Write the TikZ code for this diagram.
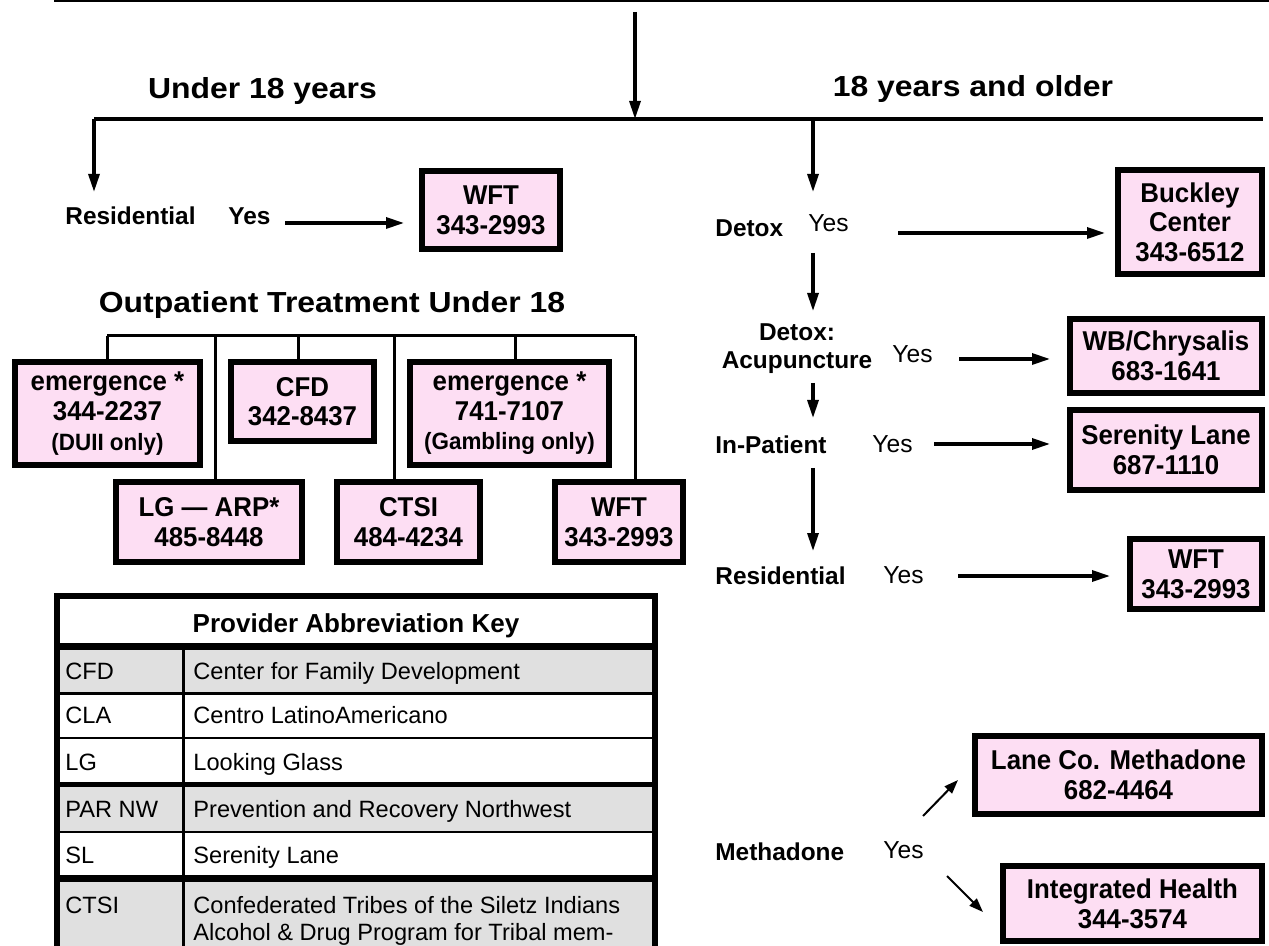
\documentclass[tikz,border=0pt]{standalone}
\usepackage{fontspec}
\setmainfont{Liberation Sans}
\newfontfamily\headfont[Ligatures=TeX, FakeStretch=1.1]{Liberation Sans}
\newfontfamily\boxfont[Ligatures=TeX, FakeStretch=0.95]{Liberation Sans}
\usetikzlibrary{arrows.meta}

\definecolor{boxpink}{RGB}{253,222,243}
\definecolor{keygray}{RGB}{224,224,224}

\tikzset{
  provbox/.style={draw, line width=3pt, fill=boxpink, align=center, inner sep=0pt,
    font=\boxfont\fontsize{13.6}{14.8}\selectfont\bfseries},
  lbl/.style={anchor=base west, inner sep=0pt, font=\fontsize{12.2}{14}\selectfont\bfseries},
  yeslbl/.style={anchor=base west, inner sep=0pt, font=\fontsize{12.3}{14}\selectfont},
  headlbl/.style={anchor=base, inner sep=0pt, font=\headfont\fontsize{14.5}{17}\selectfont\bfseries},
  keyhead/.style={anchor=base, inner sep=0pt, font=\fontsize{13}{15}\selectfont\bfseries},
  keytxt/.style={anchor=base west, inner sep=0pt, align=left, font=\fontsize{11.8}{13.5}\selectfont},
  arr/.style={-{Triangle[length=9pt,width=5.5pt]}, line width=1.6pt},
  thinarr/.style={-{Triangle[length=7pt,width=5pt]}, line width=1pt},
  tline/.style={line width=1.5pt}
}

\begin{document}
\begin{tikzpicture}[x=0.5pt,y=-0.5pt]
  \useasboundingbox (0,0) rectangle (1269,946);

  % top rule and age split
  \draw[line width=1pt] (54,1) -- (1269,1);
  \coordinate (top) at (635,12);
  \coordinate (split) at (635,119);
  \coordinate (splitL) at (94,119);
  \coordinate (splitR) at (1263,119);
  \draw[line width=1.6pt] (splitL) -- (splitR);
  \draw[arr] (top) -- (split);

  \node[headlbl] (under) at (262.5,99) {Under 18 years};
  \node[headlbl] (older) at (973,97) {18 years and older};

  % under 18: residential
  \node[lbl] (resYouth) at (65,225) {Residential};
  \node[lbl] (resYouthYes) at (228,225) {Yes};
  \node[provbox, minimum width=69pt, minimum height=39pt] (wftYouth) at (491,210) {WFT\\343-2993};
  \draw[arr, shorten >=7.5pt] (splitL) -- (splitL |- resYouth.north);
  \coordinate (ay) at (285,223);
  \draw[arr, shorten >=7.5pt] (ay) -- (ay -| wftYouth.west);

  % under 18: outpatient
  \node[headlbl] (outpat) at (332,313) {Outpatient Treatment Under 18};
  \node[provbox, minimum width=92.5pt, minimum height=51.5pt] (emDuii) at (107.5,413.5)
        {emergence *\\344-2237\\{\fontsize{11.8}{13}\selectfont (DUII only)}};
  \node[provbox, minimum width=71.5pt, minimum height=39.5pt] (cfdBox) at (302.5,401.5) {CFD\\342-8437};
  \node[provbox, minimum width=99.5pt, minimum height=51.5pt] (emGamb) at (509.5,413.5)
        {emergence *\\741-7107\\{\fontsize{11.8}{13}\selectfont (Gambling only)}};
  \node[provbox, minimum width=93pt, minimum height=40pt] (lgArp) at (209,522) {LG --- ARP*\\485-8448};
  \node[provbox, minimum width=71.5pt, minimum height=40pt] (ctsiBox) at (408.5,522) {CTSI\\484-4234};
  \node[provbox, minimum width=64pt, minimum height=40pt] (wftOut) at (619,522) {WFT\\343-2993};

  \coordinate (t1) at (107,336);
  \coordinate (t2) at (215,336);
  \coordinate (t3) at (298,336);
  \coordinate (t4) at (394,336);
  \coordinate (t5) at (515,336);
  \coordinate (t6) at (635,336);
  \draw[tline] (t1) -- (t6);
  \foreach \t/\b in {t1/emDuii, t2/lgArp, t3/cfdBox, t4/ctsiBox, t5/emGamb, t6/wftOut}
    \draw[tline] (\t) -- (\t |- \b.north);

  % 18 and older
  \node[lbl] (detox) at (715,237) {Detox};
  \node[yeslbl] (detoxYes) at (808,232) {Yes};
  \node[lbl, anchor=north, align=center] (acu) at (797,323.5) {Detox:\\Acupuncture};
  \node[yeslbl] (acuYes) at (892,363) {Yes};
  \node[lbl] (inpat) at (715,453) {In-Patient};
  \node[yeslbl] (inpatYes) at (872,452) {Yes};
  \node[lbl] (resAdult) at (715,584) {Residential};
  \node[yeslbl] (resAdultYes) at (883,583) {Yes};
  \node[lbl] (meth) at (715,860) {Methadone};
  \node[yeslbl] (methYes) at (883,858) {Yes};

  \node[provbox, minimum width=72pt, minimum height=52pt] (buckley) at (1190,222) {Buckley\\Center\\343-6512};
  \node[provbox, minimum width=96pt, minimum height=37pt] (wbChrys) at (1166,356) {WB/Chrysalis\\683-1641};
  \node[provbox, minimum width=96pt, minimum height=40pt] (serenity) at (1166,450) {Serenity Lane\\687-1110};
  \node[provbox, minimum width=66pt, minimum height=35pt] (wftAdult) at (1196,574) {WFT\\343-2993};
  \node[provbox, minimum width=143.5pt, minimum height=39pt] (laneMeth) at (1118.5,775) {Lane Co. Methadone\\682-4464};
  \node[provbox, minimum width=129.5pt, minimum height=37.5pt] (integ) at (1132.5,903.5) {Integrated Health\\344-3574};

  \coordinate (v0) at (813,119);
  \coordinate (v1) at (813,192);
  \coordinate (v2) at (813,253);
  \coordinate (v3) at (813,311);
  \coordinate (v4) at (813,383);
  \coordinate (v5) at (813,418);
  \coordinate (v6) at (813,468);
  \coordinate (v7) at (813,551);
  \draw[arr] (v0) -- (v1);
  \draw[arr] (v2) -- (v3);
  \draw[arr] (v4) -- (v5);
  \draw[arr] (v6) -- (v7);

  \coordinate (h1) at (898,233);
  \coordinate (h2) at (959,359);
  \coordinate (h3) at (934,444);
  \coordinate (h4) at (958,576);
  \draw[arr, shorten >=5pt] (h1) -- (h1 -| buckley.west);
  \draw[arr, shorten >=8.5pt] (h2) -- (h2 -| wbChrys.west);
  \draw[arr, shorten >=8.5pt] (h3) -- (h3 -| serenity.west);
  \draw[arr, shorten >=8.5pt] (h4) -- (h4 -| wftAdult.west);

  \coordinate (m1) at (923,816);
  \coordinate (m1e) at (958,780);
  \coordinate (m2) at (947,876);
  \coordinate (m2e) at (983,912);
  \draw[thinarr] (m1) -- (m1e);
  \draw[thinarr] (m2) -- (m2e);

  % abbreviation key
  \fill[keygray] (57,646.5) rectangle (655,693.5);
  \fill[keygray] (57,784.5) rectangle (655,832);
  \fill[keygray] (57,878.5) rectangle (655,960);
  \draw[line width=3pt] (57,960) -- (57,596) -- (655,596) -- (655,960);
  \draw[line width=3.5pt] (57,646.5) -- (655,646.5);
  \foreach \y/\w in {693.5/1.5pt, 738/1.2pt, 784.5/2.5pt, 832/1.2pt, 878.5/3.5pt}
    \draw[line width=\w] (57,\y) -- (655,\y);
  \draw[line width=1.5pt] (183.5,646.5) -- (183.5,960);

  \node[keyhead] (keyTitle) at (356,632) {Provider Abbreviation Key};
  \foreach \n/\a/\d/\y in {cfd/CFD/Center for Family Development/679,
                           cla/CLA/Centro LatinoAmericano/723,
                           lg/LG/Looking Glass/770,
                           par/PAR NW/Prevention and Recovery Northwest/817,
                           sl/SL/Serenity Lane/863}
  {
    \node[keytxt] (ab\n) at (65,\y) {\a};
    \node[keytxt] (ds\n) at (193,\y) {\d};
  }
  \node[keytxt] (abctsi) at (65,913) {CTSI};
  \node[keytxt, anchor=north west] (dsctsi) at (193,896)
        {Confederated Tribes of the Siletz Indians\\Alcohol \& Drug Program for Tribal mem-};

\end{tikzpicture}
\end{document}
